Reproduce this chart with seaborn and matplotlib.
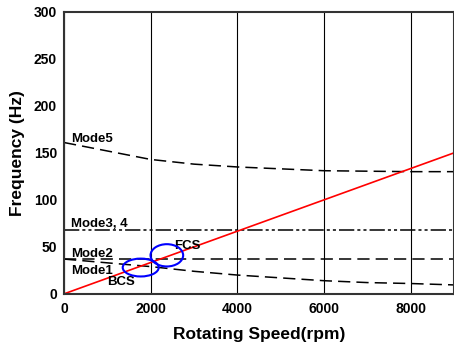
import matplotlib
matplotlib.use("Agg")
import matplotlib.pyplot as plt
from matplotlib.patches import Ellipse
import seaborn as sns
import pandas as pd

# ---- data ----
rpm = [0, 1000, 2000, 3000, 4000, 5000, 6000, 7000, 8000, 9000]
mode5 = [161, 152, 143, 138, 135, 133, 131, 130.5, 130, 130]
mode34 = [68, 68, 68, 68, 68, 68, 68, 68, 68, 68]
mode2 = [37, 37, 37, 37, 37, 37, 37, 37, 37, 37]
mode1 = [37, 33, 29, 24, 20, 17, 14, 12, 11, 9.5]
excitation = [r / 60 for r in rpm]  # 1X line (rpm/60)

xticks = [0, 2000, 4000, 6000, 8000]
yticks = [0, 50, 100, 150, 200, 250, 300]

mode_labels = ["Mode5", "Mode3, 4", "Mode2", "Mode1"]
mode_label_pos = [(160, 158), (160, 68), (160, 36), (160, 17.5)]
crit_labels = ["BCS", "FCS"]
crit_label_pos = [(990, 5.9), (2535, 45)]
ellipse_centers = [(1770, 28), (2373, 41)]
ellipse_sizes = [(830, 19), (753, 23.7)]

# ---- plot ----
sns.set_theme(style="white")
plt.rcParams["font.family"] = ["Liberation Sans", "DejaVu Sans"]
plt.rcParams["font.weight"] = "bold"
plt.rcParams["text.color"] = "black"
plt.rcParams["axes.labelcolor"] = "black"

fig = plt.figure(figsize=(4.54, 3.49), dpi=100)
ax = fig.add_axes([0.141, 0.158, 0.859, 0.808])

df = pd.DataFrame({"rpm": rpm, "m5": mode5, "m34": mode34, "m2": mode2,
                   "m1": mode1, "ex": excitation})

sns.lineplot(data=df, x="rpm", y="m5", ax=ax, color="black", lw=1.1,
             linestyle=(0, (8, 4)))
sns.lineplot(data=df, x="rpm", y="m34", ax=ax, color="black", lw=1.1,
             linestyle=(0, (10, 2, 2, 2, 2, 2)))
sns.lineplot(data=df, x="rpm", y="m2", ax=ax, color="black", lw=1.1,
             linestyle=(0, (8, 4)))
sns.lineplot(data=df, x="rpm", y="m1", ax=ax, color="black", lw=1.1,
             linestyle=(0, (8, 4)))
sns.lineplot(data=df, x="rpm", y="ex", ax=ax, color="red", lw=1.2)

for (cx, cy), (w, h) in zip(ellipse_centers, ellipse_sizes):
    ax.add_patch(Ellipse((cx, cy), w, h, fill=False, edgecolor="blue", lw=1.5,
                         zorder=5))

for lab, (x, y) in zip(mode_labels, mode_label_pos):
    ax.text(x, y, lab, fontsize=9.5, fontweight="bold", ha="left", va="bottom",
            color="black")
for lab, (x, y) in zip(crit_labels, crit_label_pos):
    ax.text(x, y, lab, fontsize=9.5, fontweight="bold", ha="left", va="bottom",
            color="black")

ax.set_xlim(0, 9000)
ax.set_ylim(0, 300)
ax.set_xticks(xticks)
ax.set_yticks(yticks)
ax.set_xticklabels([str(t) for t in xticks], fontsize=10, fontweight="bold")
ax.set_yticklabels([str(t) for t in yticks], fontsize=10, fontweight="bold")
ax.tick_params(axis="x", direction="in", length=4, width=1, colors="black", pad=6)
ax.tick_params(axis="y", direction="in", length=4, width=1, colors="black", pad=5)
ax.grid(axis="x", color="black", lw=0.8)
ax.set_axisbelow(True)
for s in ax.spines.values():
    s.set_color("#333333")
    s.set_linewidth(1.5)

ax.set_xlabel("Rotating Speed(rpm)", fontsize=12.5, fontweight="bold", labelpad=8)
ax.set_ylabel("Frequency (Hz)", fontsize=12.5, fontweight="bold", labelpad=6)

fig.savefig("out.png", dpi=100)
